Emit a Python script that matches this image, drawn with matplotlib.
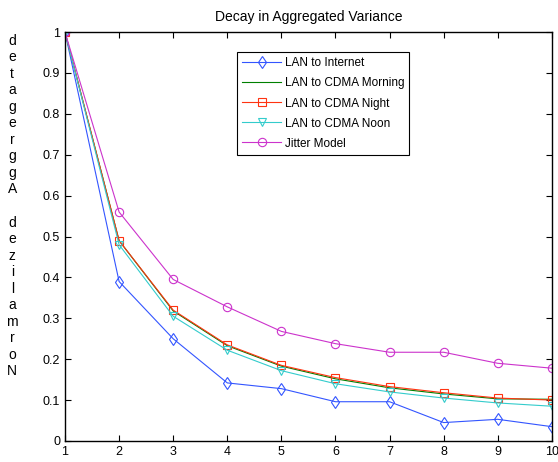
import matplotlib
matplotlib.use('Agg')
import matplotlib.pyplot as plt

plt.rcParams['font.family'] = ['Liberation Sans', 'DejaVu Sans']

x = [1, 2, 3, 4, 5, 6, 7, 8, 9, 10]
internet = [1.0, 0.39, 0.25, 0.142, 0.128, 0.096, 0.096, 0.045, 0.053, 0.035]
morning = [1.0, 0.49, 0.318, 0.233, 0.183, 0.152, 0.130, 0.115, 0.103, 0.102]
night = [1.0, 0.49, 0.320, 0.235, 0.185, 0.155, 0.133, 0.118, 0.105, 0.100]
noon = [1.0, 0.48, 0.305, 0.222, 0.172, 0.140, 0.120, 0.105, 0.093, 0.085]
jitter = [1.0, 0.56, 0.395, 0.328, 0.268, 0.238, 0.217, 0.217, 0.190, 0.178]

fig = plt.figure(figsize=(5.58, 4.62), dpi=100)
ax = fig.add_axes([0.1165, 0.0455, 0.8725, 0.885])

ax.plot(x, internet, color='#3355ff', lw=0.8, marker='d', mfc='none', ms=6, mew=0.8, label='LAN to Internet')
ax.plot(x, morning, color='#008000', lw=0.8, label='LAN to CDMA Morning')
ax.plot(x, night, color='#ff3311', lw=0.8, marker='s', mfc='none', ms=6, mew=0.8, label='LAN to CDMA Night')
ax.plot(x, noon, color='#33cccc', lw=0.8, marker='v', mfc='none', ms=6, mew=0.8, label='LAN to CDMA Noon')
ax.plot(x, jitter, color='#cc33cc', lw=0.8, marker='o', mfc='none', ms=6, mew=0.8, label='Jitter Model')

ax.set_xlim(1, 10)
ax.set_ylim(0, 1)
ax.set_xticks(x)
ax.set_yticks([0, 0.1, 0.2, 0.3, 0.4, 0.5, 0.6, 0.7, 0.8, 0.9, 1])
ax.set_yticklabels(['0', '0.1', '0.2', '0.3', '0.4', '0.5', '0.6', '0.7', '0.8', '0.9', '1'])
ax.tick_params(direction='in', top=True, right=True, labelsize=9, length=4)
for s in ax.spines.values():
    s.set_linewidth(1.0)

ax.set_title('Decay in Aggregated Variance', fontsize=10, pad=8)

leg = ax.legend(loc='upper left', bbox_to_anchor=(0.353, 0.951), fontsize=8.5,
                frameon=True, fancybox=False, edgecolor='black', framealpha=1,
                handlelength=3.3, handletextpad=0.3, borderpad=0.45,
                borderaxespad=0, labelspacing=0.68)
leg.get_frame().set_linewidth(0.8)

ylab = '\n'.join(reversed('Normalized Aggregated'))
fig.text(0.022, 0.927, ylab, fontsize=10, ha='center', va='top', linespacing=1.23)

fig.savefig('out.png', dpi=100)
